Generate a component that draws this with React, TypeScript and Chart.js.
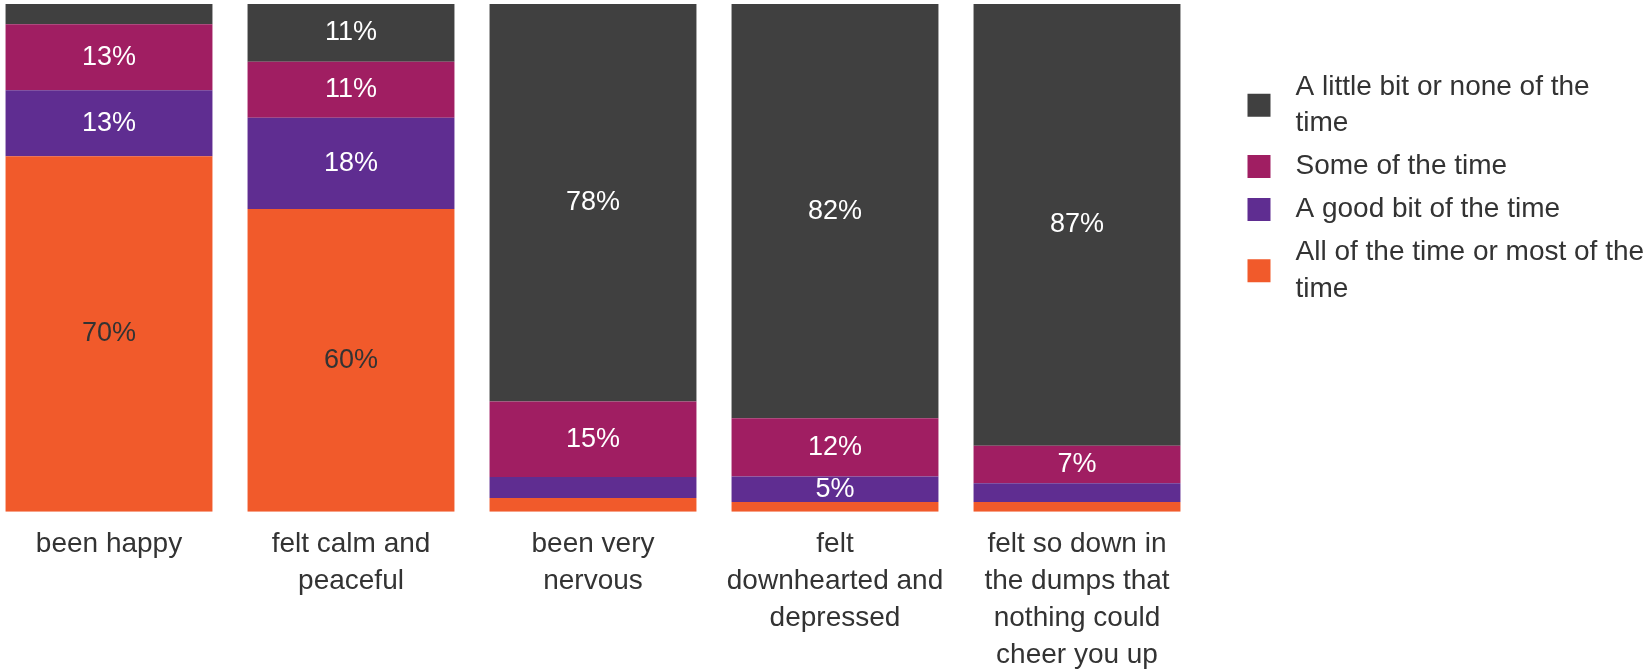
import React, { useEffect, useRef } from "react";
import { Chart, registerables } from "chart.js";

Chart.register(...registerables);

const categories: string[][] = [
  ["been happy"],
  ["felt calm and", "peaceful"],
  ["been very", "nervous"],
  ["felt", "downhearted and", "depressed"],
  ["felt so down in", "the dumps that", "nothing could", "cheer you up"],
];

const allOrMost = [70, 59.6, 2.7, 1.9, 1.9];
const goodBit = [13, 18, 4.1, 5.0, 3.7];
const someTime = [13, 11, 14.9, 11.5, 7.4];
const littleOrNone = [4, 11.4, 78.3, 81.6, 87];

const seriesNames = [
  "All of the time or most of the time",
  "A good bit of the time",
  "Some of the time",
  "A little bit or none of the time",
];
// legend text as wrapped in the reference, top-to-bottom order
const legendLines: string[][] = [
  ["A little bit or none of the", "time"],
  ["Some of the time"],
  ["A good bit of the time"],
  ["All of the time or most of the", "time"],
];

const colors = ["#F15A2B", "#5F2D91", "#A01E62", "#404040"];
const labelColors = ["#333333", "#FFFFFF", "#FFFFFF", "#FFFFFF"];
const FONT = "'Liberation Sans', Arial, sans-serif";

const dataLabelPlugin = {
  id: "segLabels",
  afterDatasetsDraw(chart: any) {
    const ctx = chart.ctx;
    ctx.save();
    ctx.font = `27px ${FONT}`;
    ctx.textAlign = "center";
    ctx.textBaseline = "middle";
    chart.data.datasets.forEach((ds: any, di: number) => {
      const meta = chart.getDatasetMeta(di);
      meta.data.forEach((bar: any, i: number) => {
        const v = Math.round(ds.data[i]);
        if (v < 5) return;
        ctx.fillStyle = labelColors[di];
        ctx.fillText(`${v}%`, bar.x, (bar.y + bar.base) / 2);
      });
    });
    ctx.restore();
  },
};

const legendPlugin = {
  id: "wrapLegend",
  afterDraw(chart: any) {
    const ctx = chart.ctx;
    const area = chart.chartArea;
    const boxX = area.right + 49.5;
    const textX = area.right + 97.5;
    const lineH = 36.5;
    const gap = 6.5;
    let y = 87;
    ctx.save();
    ctx.font = `28px ${FONT}`;
    ctx.textBaseline = "middle";
    ctx.textAlign = "left";
    legendLines.forEach((lines, li) => {
      const di = seriesNames.length - 1 - li;
      const first = y;
      const last = y + (lines.length - 1) * lineH;
      const mid = (first + last) / 2;
      ctx.fillStyle = colors[di];
      ctx.fillRect(boxX, mid - 11.5, 23, 23);
      ctx.fillStyle = "#333333";
      lines.forEach((t, k) => ctx.fillText(t, textX, first + k * lineH));
      y = last + lineH + gap;
    });
    ctx.restore();
  },
};

export default function App() {
  const ref = useRef<HTMLCanvasElement | null>(null);
  useEffect(() => {
    if (!ref.current) return;
    const series = [allOrMost, goodBit, someTime, littleOrNone];
    const chart = new Chart(ref.current, {
      type: "bar",
      data: {
        labels: categories,
        datasets: series.map((d, i) => ({
          label: seriesNames[i],
          data: d,
          backgroundColor: colors[i],
          borderWidth: 0,
          barPercentage: 0.855,
          categoryPercentage: 1,
        })),
      },
      options: {
        animation: false,
        responsive: false,
        maintainAspectRatio: false,
        layout: { padding: { top: 4, right: 450, left: 0, bottom: 0 } },
        plugins: { legend: { display: false }, tooltip: { enabled: false } },
        scales: {
          x: {
            stacked: true,
            grid: { display: false, drawTicks: false, tickLength: 0 },
            border: { display: false },
            ticks: {
              color: "#333333",
              font: { family: FONT, size: 28, lineHeight: 1.314 },
              padding: 14.6,
              maxRotation: 0,
              minRotation: 0,
              autoSkip: false,
            },
          },
          y: { stacked: true, display: false, min: 0, max: 100 },
        },
      },
      plugins: [dataLabelPlugin, legendPlugin],
    });
    return () => chart.destroy();
  }, []);
  return (
    <div style={{ position: "fixed", left: 0, top: 0, width: 1648, height: 669, overflow: "hidden", background: "#fff" }}>
      <div style={{ position: "absolute", left: -12, top: 0, width: 1660, height: 688 }}>
        <canvas ref={ref} width={1660} height={688} style={{ width: 1660, height: 688, display: "block" }} />
      </div>
    </div>
  );
}
